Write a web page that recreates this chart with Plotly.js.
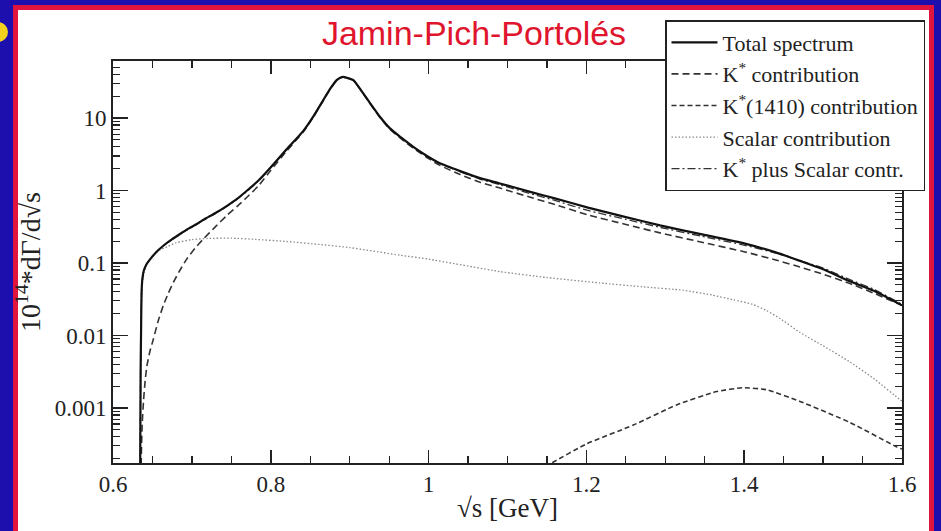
<!DOCTYPE html>
<html><head><meta charset="utf-8">
<script src="https://cdn.plot.ly/plotly-3.0.1.min.js"></script>
<style>
html,body{margin:0;padding:0;width:941px;height:531px;overflow:hidden;background:#1d0fae;}
#frame{position:absolute;left:13px;top:5px;width:911px;height:560px;background:#fff;border:5px solid #e0143c;}
#dot{position:absolute;left:-12px;top:22px;width:20px;height:20px;border-radius:50%;background:#f2d21c;}
#chart{position:absolute;left:0;top:0;width:941px;height:531px;}
</style></head><body>
<div id="frame"></div><div id="dot"></div><div id="chart"></div>
<script>
// ---- data ----
const totalX = [0.6340,0.6350,0.6356,0.6362,0.6372,0.6390,0.6425,0.6472,0.6550,0.6638,0.6750,0.6849,0.6950,0.7061,0.7180,0.7314,0.7440,0.7568,0.7700,0.7850,0.8000,0.8200,0.8410,0.8550,0.8665,0.8760,0.8835,0.8880,0.8919,0.8960,0.9046,0.9140,0.9257,0.9380,0.9510,0.9650,0.9806,1.0000,1.0144,1.0400,1.0651,1.0905,1.1300,1.1600,1.2020,1.2500,1.2933,1.3450,1.4010,1.4400,1.4707,1.5000,1.5340,1.5650,1.6000];
const totalY = [1e-5,0.003,0.012,0.039,0.060,0.078,0.096,0.113,0.142,0.173,0.213,0.251,0.295,0.345,0.415,0.50,0.61,0.76,1.0,1.40,2.1,3.7,6.6,11.0,17.7,26.0,33.4,36.0,37.0,36.0,33.4,24.5,16.1,10.5,7.2,5.4,4.0,2.9,2.37,1.85,1.48,1.25,0.95,0.78,0.58,0.43,0.33,0.25,0.185,0.14,0.107,0.082,0.056,0.041,0.026];

const kstarX = [0.6350,0.6358,0.6370,0.6388,0.6408,0.6430,0.6467,0.6513,0.6570,0.6638,0.6700,0.6765,0.6850,0.6934,0.7040,0.7145,0.7290,0.7440,0.7570,0.7694,0.7850,0.8000,0.8200,0.8410,0.8550,0.8665,0.8760,0.8835,0.8880,0.8919,0.8960,0.9046,0.9140,0.9257,0.9380,0.9510,0.9650,0.9806,1.0000,1.0144,1.0400,1.0651,1.0905,1.1300,1.1600,1.2020,1.2500,1.2933,1.3450,1.4010,1.4400,1.4707,1.5000,1.5340,1.5650,1.6000];
const kstarY = [1e-5,0.0002,0.0006,0.0013,0.0024,0.0038,0.0060,0.009,0.0155,0.026,0.038,0.054,0.080,0.113,0.160,0.214,0.31,0.45,0.60,0.80,1.18,1.9,3.5,6.4,10.8,17.5,25.8,33.2,35.8,36.8,35.8,33.2,24.3,15.9,10.3,7.0,5.2,3.85,2.75,2.22,1.66,1.30,1.08,0.80,0.64,0.46,0.34,0.26,0.195,0.142,0.110,0.088,0.070,0.052,0.038,0.026];

const k1410X = [1.130,1.156,1.2004,1.2595,1.3143,1.3650,1.3988,1.4285,1.4707,1.5340,1.5933,1.6000];
const k1410Y = [0.000123,0.000174,0.00032,0.00058,0.0011,0.00168,0.0019,0.00178,0.00123,0.00063,0.00029,0.00027];

const scalarX = [0.6342,0.6350,0.6360,0.6375,0.6395,0.6420,0.6460,0.6510,0.6590,0.6690,0.6800,0.7000,0.7200,0.7500,0.7800,0.8200,0.8620,0.9000,0.9638,1.0000,1.0905,1.1500,1.2173,1.2700,1.3232,1.3600,1.3862,1.4100,1.4285,1.4458,1.4707,1.5000,1.5340,1.5650,1.5975,1.6000];
const scalarY = [1e-5,0.01,0.03,0.055,0.075,0.092,0.11,0.128,0.150,0.168,0.19,0.21,0.218,0.22,0.212,0.198,0.18,0.163,0.128,0.113,0.076,0.063,0.053,0.047,0.042,0.036,0.031,0.027,0.022,0.017,0.011,0.0072,0.0043,0.0025,0.0013,0.00125];

const kplusSY = [1e-5,0.003,0.012,0.039,0.060,0.078,0.096,0.113,0.142,0.172,0.211,0.248,0.29,0.34,0.41,0.49,0.60,0.75,0.98,1.38,2.08,3.68,6.58,11.0,17.7,26.0,33.4,36.0,37.0,36.0,33.4,24.5,16.1,10.5,7.2,5.4,4.0,2.88,2.35,1.82,1.44,1.20,0.90,0.73,0.53,0.40,0.31,0.235,0.175,0.137,0.108,0.085,0.059,0.043,0.027];

const xTickVals = [0.6,0.8,1.0,1.2,1.4,1.6];
const xTickText = ['0.6','0.8','1','1.2','1.4','1.6'];
const yTickVals = [0.001,0.01,0.1,1,10];
const yTickText = ['0.001','0.01','0.1','1','10'];

const titleText = 'Jamin-Pich-Portolés';
const xTitle = '√s [GeV]';
const yTitle = '10<sup>14</sup>*dΓ/d√s';
const names = ['Total spectrum','K<sup>*</sup> contribution','K<sup>*</sup>(1410) contribution','Scalar contribution','K<sup>*</sup> plus Scalar contr.'];

// ---- build ----
const yMinor = [];
for (let d = -4; d <= 1; d++) for (let k = 2; k <= 9; k++) yMinor.push(k * Math.pow(10, d));

const traces = [
  {x: scalarX, y: scalarY, name: names[3], legendrank: 4, mode: 'lines', line: {color: '#8a8a8a', width: 1.3, dash: '1.5px,2px', shape: 'spline', smoothing: 0.5}},
  {x: k1410X, y: k1410Y, name: names[2], legendrank: 3, mode: 'lines', line: {color: '#333', width: 1.6, dash: '5px,3px', shape: 'spline', smoothing: 0.5}},
  {x: kstarX, y: kstarY, name: names[1], legendrank: 2, mode: 'lines', line: {color: '#333', width: 1.6, dash: '7px,4px', shape: 'spline', smoothing: 0.5}},
  {x: totalX, y: kplusSY, name: names[4], legendrank: 5, mode: 'lines', line: {color: '#333', width: 1.3, dash: '8px,3px,2px,3px', shape: 'spline', smoothing: 0.5}},
  {x: totalX, y: totalY, name: names[0], legendrank: 1, mode: 'lines', line: {color: '#111', width: 2.2, shape: 'spline', smoothing: 0.5}}
];

const tickFont = {family: 'Liberation Serif, Times New Roman, serif', size: 23, color: '#222'};
const layout = {
  width: 941, height: 531,
  margin: {l: 113, r: 39, t: 61, b: 68},
  paper_bgcolor: 'rgba(0,0,0,0)',
  plot_bgcolor: '#fff',
  showlegend: true,
  title: {text: titleText, x: 474/941, xanchor: 'center', y: 1 - 33/531, yanchor: 'middle',
          font: {family: 'Liberation Sans, Arial, sans-serif', size: 34, color: '#e0142c'}},
  xaxis: {range: [0.6, 1.6], tickmode: 'array', tickvals: xTickVals, ticktext: xTickText,
          ticks: 'inside', ticklen: 13, tickwidth: 1.5, tickcolor: '#222',
          showline: true, linecolor: '#222', linewidth: 1.8, mirror: 'ticks',
          showgrid: false, zeroline: false, tickfont: tickFont, ticklabelstandoff: 0,
          minor: {ticks: 'inside', ticklen: 7, tickwidth: 1.2, tickcolor: '#222', dtick: 0.05, tick0: 0.6, showgrid: false},
          title: {text: xTitle, font: {family: 'Liberation Serif, serif', size: 27, color: '#222'}, standoff: 2}},
  yaxis: {type: 'log', range: [-3.76, 1.787], tickmode: 'array', tickvals: yTickVals, ticktext: yTickText,
          ticks: 'inside', ticklen: 15, tickwidth: 1.5, tickcolor: '#222',
          showline: true, linecolor: '#222', linewidth: 1.8, mirror: 'ticks',
          showgrid: false, zeroline: false, tickfont: tickFont,
          minor: {ticks: 'inside', ticklen: 7, tickwidth: 1.2, tickcolor: '#222', tickmode: 'array', tickvals: yMinor, showgrid: false},
          title: {text: yTitle, font: {family: 'Liberation Serif, serif', size: 28, color: '#222'}, standoff: 6}},
  legend: {x: (665 - 113)/789, xanchor: 'left', y: (463 - 20)/402, yanchor: 'top',
           bgcolor: '#fff', bordercolor: '#222', borderwidth: 1.5, itemwidth: 46,
           font: {family: 'Liberation Serif, Times New Roman, serif', size: 22, color: '#222'}}
};

Plotly.newPlot('chart', traces, layout, {displayModeBar: false, staticPlot: true});
</script></body></html>
